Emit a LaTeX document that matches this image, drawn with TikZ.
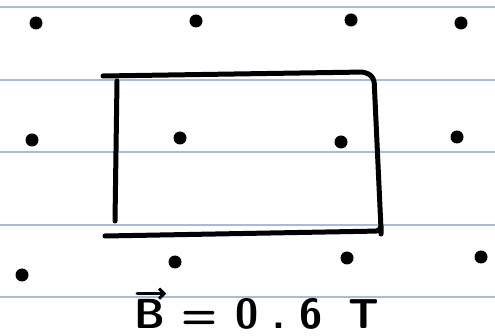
\documentclass[tikz,border=0pt]{standalone}
\usepackage{fontspec}
\usepackage{tikz}
\usetikzlibrary{positioning, calc, arrows.meta}
\definecolor{ruleblue}{RGB}{170,186,220}
\tikzset{
  ruleline/.style={draw=ruleblue, line width=1.2pt},
  fielddot/.style={
    circle, fill=black, inner sep=0pt, minimum size=13pt
  },
  loopwire/.style={
    line width=5pt, line cap=round, line join=round
  },
  fieldlabel/.style={
    font=\fontsize{42}{46}\selectfont\sffamily\bfseries, inner sep=0pt
  },
  vecarrow/.style={-{Straight Barb[length=5pt]}, line width=3pt, line cap=round},
}

\begin{document}
\begin{tikzpicture}[x=1pt, y=-1pt]
  \useasboundingbox[fill=white] (0,0) rectangle (495,336);

  % Ruled paper
  \foreach \ry in {7,80,152,225,297}
    \draw[ruleline] (0,\ry) -- (495,\ry);

  % Field dots (out of page)
  \foreach \dx/\dy [count=\i] in {36/23, 196/21, 351/20, 461/23,
      32/140, 180/138, 341/142, 457/137,
      22/275, 175/262, 347/258, 481/257}
    \node[fielddot] (dot\i) at (\dx,\dy) {};

  % Conducting loop
  \coordinate (topL) at (103,76);
  \coordinate (topR) at (366,72);
  \coordinate (botR) at (381,229);
  \coordinate (botL) at (105,236);
  \draw[loopwire, rounded corners=5pt]
    (topL) -- (topR) -- ($(topR)+(8,6)$) -- (botR) -- ($(botR)+(0,2)$) -- (botL);
  \draw[loopwire] (117,81) -- (115,221);

  % Field magnitude
  \node[fieldlabel, anchor=base west] (bvec) at (134,329) {B};
  \node[fieldlabel, anchor=base west] (field) at ($(bvec.base east)+(16,0)$)
    {=\hspace{18pt}0\hspace{14pt}.\hspace{14pt}6\hspace{26pt}T};
  \draw[vecarrow] ($(bvec.north west)+(3,-6)$) -- ($(bvec.north east)+(1,-6)$);
\end{tikzpicture}
\end{document}
